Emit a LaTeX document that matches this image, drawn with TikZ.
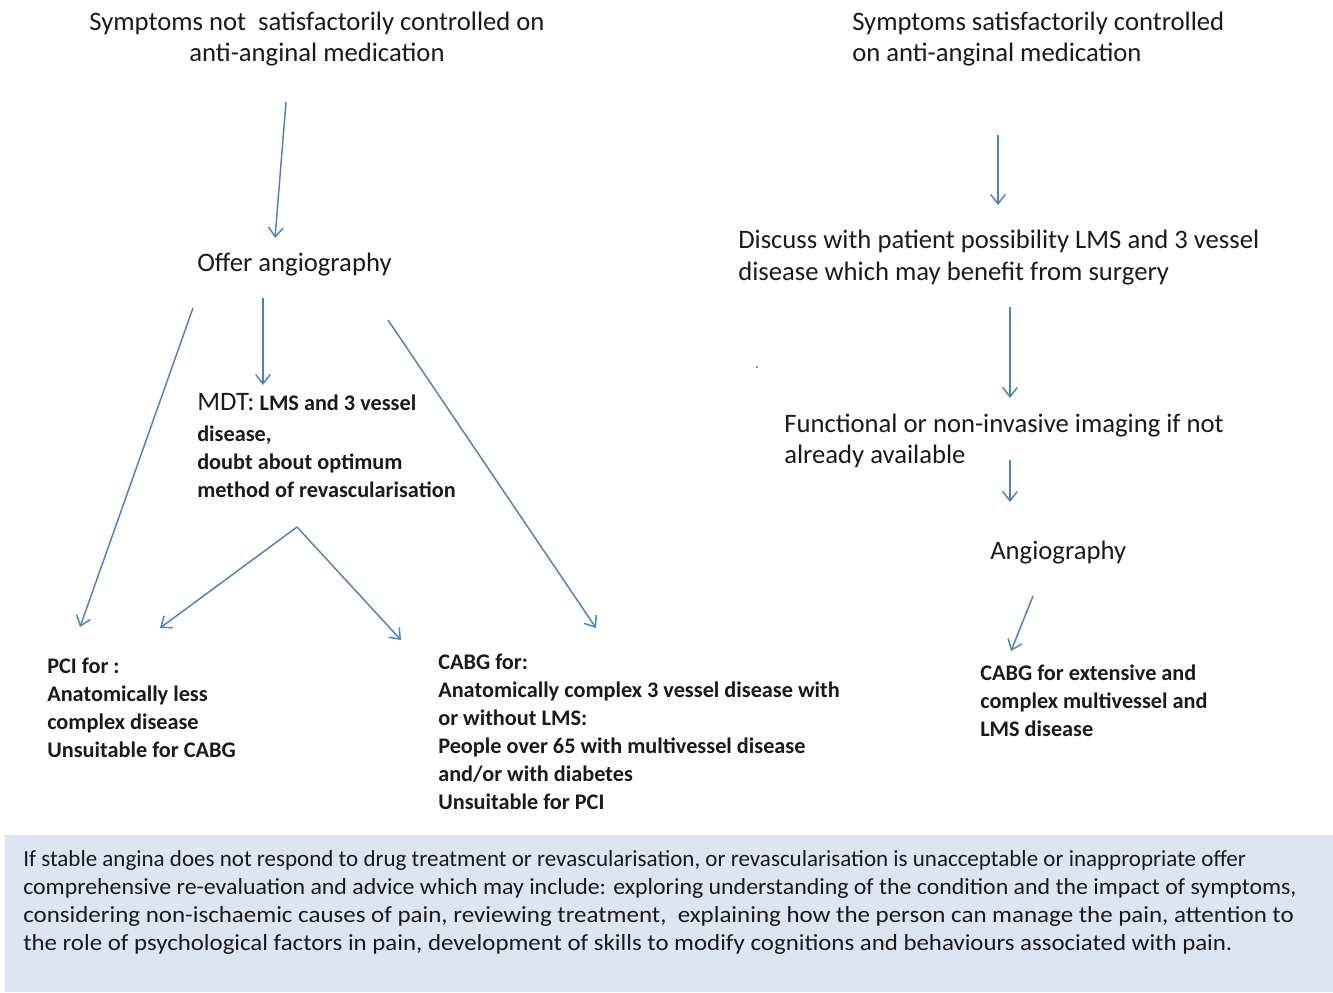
\documentclass[tikz,border=0pt]{standalone}
\usepackage{fontspec}
\usepackage{graphicx}
\setmainfont{Carlito}
\usetikzlibrary{arrows.meta}
\definecolor{arrowblue}{RGB}{79,129,189}
\definecolor{boxfill}{RGB}{220,230,242}
\definecolor{txt}{RGB}{25,25,30}
\tikzset{
  big/.style={font=\fontsize{20}{23}\selectfont, align=left, inner sep=0pt, anchor=north west, text=txt},
  small/.style={font=\bfseries\fontsize{16.7}{21}\selectfont, align=left, inner sep=0pt, anchor=north west, text=txt},
  note/.style={font=\fontsize{17.3}{21}\selectfont, align=left, inner sep=0pt, anchor=north west, text=txt},
  arr/.style={draw=arrowblue, line width=1.1pt, -{Straight Barb[length=7pt,width=11pt]}}
}
\newcommand{\fitline}[2]{\resizebox{#1}{\height}{#2}}
\begin{document}
\begin{tikzpicture}[x=0.75pt,y=-0.75pt]
\useasboundingbox (0,0) rectangle (1333,992);
% background box
\fill[boxfill] (5,835) rectangle (1333,992);
% texts
\node[big, anchor=north, align=center] (tl) at (317,12) {Symptoms not \ satisfactorily controlled on\\anti-anginal medication};
\node[big] (tr) at (852,12) {Symptoms satisfactorily controlled\\on anti-anginal medication};
\node[big] (offer) at (197,253) {Offer angiography};
\node[big, font=\fontsize{20}{24}\selectfont] (discuss) at (738,230) {Discuss with patient possibility LMS and 3 vessel\\disease which may benefit from surgery};
\node[small] (mdt) at (197,393) {{\mdseries\fontsize{20}{21}\selectfont MDT:} LMS and 3 vessel\\[2pt]disease,\\doubt about optimum\\method of revascularisation};
\node[big] (func) at (784,414) {Functional or non-invasive imaging if not\\already available};
\node[big] (angio) at (990,541) {Angiography};
\node[small] (pci) at (47,658) {PCI for :\\Anatomically less\\complex disease\\Unsuitable for CABG};
\node[small] (cabg) at (438,654) {CABG for:\\Anatomically complex 3 vessel disease with\\or without LMS:\\People over 65 with multivessel disease\\and/or with diabetes\\Unsuitable for PCI};
\node[small] (cabgr) at (980,665) {CABG for extensive and\\complex multivessel and\\LMS disease};
\node[note] (note) at (23,850) {\fitline{917pt}{If stable angina does not respond to drug treatment or revascularisation, or revascularisation is unacceptable or inappropriate offer}\\
\fitline{955pt}{comprehensive re-evaluation and advice which may include: exploring understanding of the condition and the impact of symptoms,}\\
\fitline{953pt}{considering non-ischaemic causes of pain, reviewing treatment, \ explaining how the person can manage the pain, attention to}\\
\fitline{907pt}{the role of psychological factors in pain, development of skills to modify cognitions and behaviours associated with pain.}};
% connector coordinates
\coordinate (a1s) at (286,102); \coordinate (a1e) at (275,238);
\coordinate (a2s) at (193,308); \coordinate (a2e) at (80,627);
\coordinate (a3s) at (263,298); \coordinate (a3e) at (263,385);
\coordinate (a4s) at (388,320); \coordinate (a4e) at (596,628);
\coordinate (apex) at (297,527); \coordinate (a5e) at (160,628); \coordinate (a6e) at (401,640);
\coordinate (b1s) at (998,135); \coordinate (b1e) at (998,205);
\coordinate (b2s) at (1010,307); \coordinate (b2e) at (1010,398);
\coordinate (b3s) at (1010,460); \coordinate (b3e) at (1010,502);
\coordinate (b4s) at (1033,596); \coordinate (b4e) at (1011,651);
\draw[arr] (a1s) -- (a1e);
\draw[arr] (a2s) -- (a2e);
\draw[arr] (a3s) -- (a3e);
\draw[arr] (a4s) -- (a4e);
\draw[arr] (apex) -- (a5e);
\draw[arr] (apex) -- (a6e);
\draw[arr] (b1s) -- (b1e);
\draw[arr] (b2s) -- (b2e);
\draw[arr] (b3s) -- (b3e);
\draw[arr] (b4s) -- (b4e);
\fill[arrowblue] (757,367) circle (1.2);
\end{tikzpicture}
\end{document}
